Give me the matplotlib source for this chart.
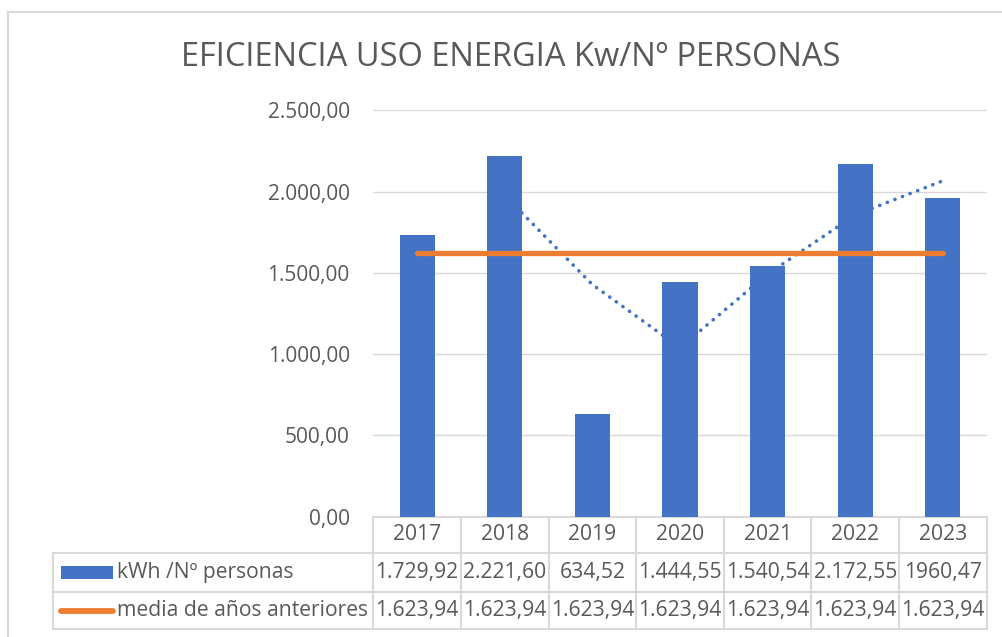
import matplotlib
matplotlib.use("Agg")
import matplotlib.pyplot as plt
from matplotlib.lines import Line2D
from matplotlib.patches import Rectangle
from matplotlib.transforms import blended_transform_factory
import pandas as pd

# ---------------------------------------------------------------------------
# Data
# ---------------------------------------------------------------------------
years = ["2017", "2018", "2019", "2020", "2021", "2022", "2023"]
kwh_per_person = [1729.92, 2221.60, 634.52, 1444.55, 1540.54, 2172.55, 1960.47]
kwh_labels = ["1.729,92", "2.221,60", "634,52", "1.444,55", "1.540,54", "2.172,55", "1960,47"]
media_anterior = [1623.94] * 7
media_labels = ["1.623,94"] * 7
y_ticks = [0, 500, 1000, 1500, 2000, 2500]
y_tick_labels = ["0,00", "500,00", "1.000,00", "1.500,00", "2.000,00", "2.500,00"]

title = "EFICIENCIA USO ENERGIA Kw/Nº PERSONAS"
series_names = ["kWh /Nº personas", "media de años anteriores"]

BLUE = "#4472C4"
ORANGE = "#ED7D31"
TEXT = "#595959"
GRID = "#D9D9D9"

plt.rcParams["font.family"] = ["Open Sans", "DejaVu Sans"]

W, H = 1003, 637
fig = plt.figure(figsize=(W / 100, H / 100), dpi=100)


def fy(px):
    # pixel row (from top) -> figure fraction
    return 1 - px / H


def fx(px):
    return px / W


# plot area in pixels
x0, x1 = 373.3, 986.7
y_top, y_bot = 110.3, 516.7
ax = fig.add_axes([fx(x0), fy(y_bot), fx(x1 - x0), (y_bot - y_top) / H])

idx = list(range(len(years)))
# Excel "moving average" trendline, period 2
trend = pd.Series(kwh_per_person).rolling(2).mean()

ax.plot(idx, trend, color=BLUE, lw=2.6, linestyle=(0, (0.05, 2.2)),
        dash_capstyle="round", zorder=2)
ax.bar(idx, kwh_per_person, width=0.4, color=BLUE, zorder=3)
ax.plot(idx, media_anterior, color=ORANGE, lw=3.8, solid_capstyle="round", zorder=4)

ax.set_xlim(-0.5, len(years) - 0.5)
ax.set_ylim(0, 2500)
ax.set_yticks(y_ticks)
ax.set_yticklabels(y_tick_labels)
ax.set_xticks([])
ax.tick_params(axis="y", length=0, pad=17, labelsize=15, labelcolor=TEXT)
ax.grid(axis="y", color=GRID, lw=1.0, zorder=0)
ax.set_axisbelow(True)
for side in ["top", "right", "left"]:
    ax.spines[side].set_visible(False)
ax.spines["bottom"].set_color(GRID)
ax.spines["bottom"].set_linewidth(1.5)

fig.text(fx(511), fy(57), title, ha="center", va="center", fontsize=23.5, color=TEXT)

# ---------------------------------------------------------------------------
# Data table below the axis
# ---------------------------------------------------------------------------
tr = blended_transform_factory(ax.transData, fig.transFigure)
rows_px = [516.7, 553.3, 591.7, 629.3]
lab_left = 53.3
fs = 15.2
lw_tab = 1.5

# horizontal borders
for r in rows_px[1:]:
    fig.add_artist(Line2D([fx(lab_left), fx(x1)], [fy(r), fy(r)], color=GRID, lw=lw_tab))
# vertical borders
for k in range(len(years) + 1):
    fig.add_artist(Line2D([k - 0.5, k - 0.5], [fy(rows_px[0]), fy(rows_px[-1])],
                          transform=tr, color=GRID, lw=lw_tab))
fig.add_artist(Line2D([fx(lab_left), fx(lab_left)], [fy(rows_px[1]), fy(rows_px[-1])],
                      color=GRID, lw=lw_tab))

row_mid = [(rows_px[i] + rows_px[i + 1]) / 2 for i in range(3)]
for i, yr in enumerate(years):
    fig.text(i, fy(row_mid[0]), yr, transform=tr, ha="center", va="center",
             fontsize=fs, color=TEXT)
    fig.text(i, fy(row_mid[1]), kwh_labels[i], transform=tr, ha="center", va="center",
             fontsize=fs, color=TEXT)
    fig.text(i, fy(row_mid[2]), media_labels[i], transform=tr, ha="center", va="center",
             fontsize=fs, color=TEXT)

# legend keys in the row headers
fig.add_artist(Rectangle((fx(61), fy(579.3)), fx(52), (579.3 - 566) / H,
                         color=BLUE, lw=0))
fig.add_artist(Line2D([fx(61), fx(113)], [fy(row_mid[2]), fy(row_mid[2])],
                      color=ORANGE, lw=4.2, solid_capstyle="round"))
fig.text(fx(117), fy(row_mid[1]), series_names[0], ha="left", va="center",
         fontsize=fs, color=TEXT)
fig.text(fx(117), fy(row_mid[2]), series_names[1], ha="left", va="center",
         fontsize=fs, color=TEXT)

# chart area frame (left and top edges visible)
fig.add_artist(Line2D([fx(8), fx(8)], [fy(12), 0], color=GRID, lw=1.5))
fig.add_artist(Line2D([fx(8), 1], [fy(12), fy(12)], color=GRID, lw=1.5))

fig.savefig("out.png", dpi=100)
